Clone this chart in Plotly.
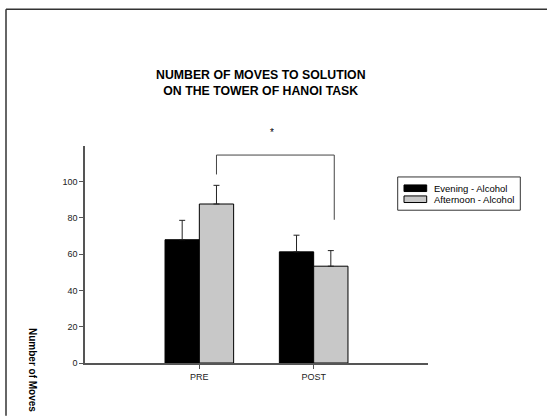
import plotly.graph_objects as go

categories = ["PRE", "POST"]
cat_pos = [0, 1]
series_names = ["Evening - Alcohol", "Afternoon - Alcohol"]
evening_vals = [68, 61.3]
evening_err = [10.7, 9.2]
afternoon_vals = [87.7, 53.4]
afternoon_err = [10.3, 8.6]
yticks = [0, 20, 40, 60, 80, 100]
colors = ["#000000", "#c8c8c8"]
title_lines = ["NUMBER OF MOVES TO SOLUTION", "ON THE TOWER OF HANOI TASK"]

FONT = "Liberation Sans, Arial, sans-serif"

fig = go.Figure()
for name, vals, errs, col in [
    (series_names[0], evening_vals, evening_err, colors[0]),
    (series_names[1], afternoon_vals, afternoon_err, colors[1]),
]:
    fig.add_trace(go.Bar(
        x=cat_pos, y=vals, name=name,
        marker=dict(color=col, line=dict(color="#000000", width=1)),
        error_y=dict(type="data", symmetric=False, array=errs,
                     arrayminus=[0] * len(errs), color="#222222",
                     thickness=1, width=3),
        showlegend=False,
    ))

# x pixel -> paper helpers (plot area 85..428 px, y 146..363.3 px)
L, R, T, B = 85, 428, 146, 363.3
def px(x):
    return (x - L) / (R - L)
def py(y):
    return (B - y) / (B - T)

shapes = []
# page border (top and left)
shapes.append(dict(type="line", xref="paper", yref="paper", x0=px(6), x1=px(547),
                   y0=py(9), y1=py(9), line=dict(color="#333333", width=1.5)))
shapes.append(dict(type="line", xref="paper", yref="paper", x0=px(6), x1=px(6),
                   y0=py(9), y1=py(416), line=dict(color="#333333", width=1.5)))
# significance bracket
shapes.append(dict(type="path", xref="x", yref="y",
                   path="M 0.15,104 L 0.15,114.7 L 1.18,114.7 L 1.18,79",
                   line=dict(color="#444444", width=1)))
# legend box
shapes.append(dict(type="rect", xref="paper", yref="paper", x0=px(397.7), x1=px(520.3),
                   y0=py(210.3), y1=py(177), line=dict(color="#333333", width=1),
                   fillcolor="white"))
legend_rows = [188.3, 199.3]
for i, yc in enumerate(legend_rows):
    shapes.append(dict(type="rect", xref="paper", yref="paper", x0=px(404), x1=px(426.7),
                       y0=py(yc + 3.3), y1=py(yc - 3.3),
                       line=dict(color="#000000", width=1), fillcolor=colors[i]))

annotations = [
    dict(text="<b>" + "<br>".join(title_lines) + "</b>", xref="paper", yref="paper",
         x=px(260.5), y=py(82.5), showarrow=False,
         font=dict(family=FONT, size=12.3, color="#000000"),
         xanchor="center", yanchor="middle"),
    dict(text="*", xref="paper", yref="paper", x=px(271.7), y=py(132), showarrow=False,
         font=dict(family=FONT, size=10, color="#000000"), xanchor="center", yanchor="middle"),
    dict(text="<b>Number of Moves</b>", xref="paper", yref="paper", x=px(32.7), y=py(370),
         showarrow=False, textangle=90,
         font=dict(family=FONT, size=10, color="#000000"), xanchor="center", yanchor="middle"),
]
for i, yc in enumerate(legend_rows):
    annotations.append(dict(text=series_names[i], xref="paper", yref="paper", x=px(431.7),
                            y=py(yc), showarrow=False, xanchor="left", yanchor="middle",
                            font=dict(family=FONT, size=9.5, color="#000000")))

fig.update_layout(
    width=547, height=416,
    margin=dict(l=L, r=547 - R, t=T, b=416 - B, pad=0),
    paper_bgcolor="white", plot_bgcolor="white",
    barmode="group", bargap=0.4, bargroupgap=0,
    shapes=shapes, annotations=annotations,
    font=dict(family=FONT, size=9, color="#000000"),
)
fig.update_xaxes(range=[-1, 2], tickvals=cat_pos, ticktext=categories,
                 showline=True, linecolor="#555555", linewidth=1.5,
                 ticks="outside", ticklen=4, tickcolor="#555555",
                 showgrid=False, zeroline=False, tickfont=dict(size=9, color="#222222"))
fig.update_yaxes(range=[0, 119.7], tickvals=yticks,
                 showline=True, linecolor="#555555", linewidth=1.5,
                 ticks="outside", ticklen=4, tickcolor="#555555",
                 showgrid=False, zeroline=False, tickfont=dict(size=9, color="#222222"))

fig.write_html("out.html", config={"displayModeBar": False},
               post_script="document.body.style.margin='0';document.body.style.overflow='hidden';")
